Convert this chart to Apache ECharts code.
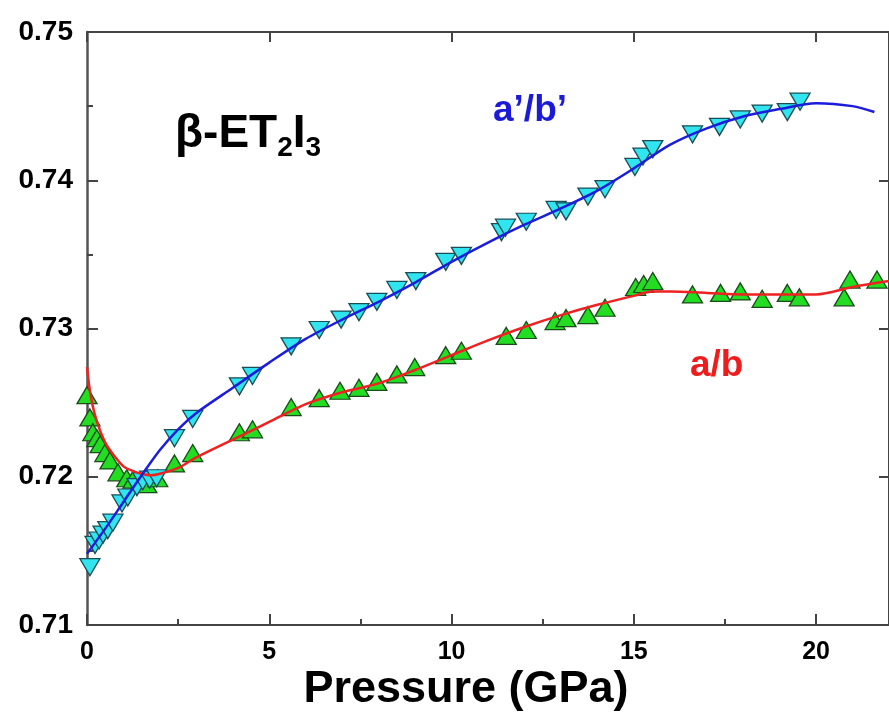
<!DOCTYPE html>
<html>
<head>
<meta charset="utf-8">
<script src="https://cdn.jsdelivr.net/npm/echarts@6/dist/echarts.min.js"></script>
<style>
html,body{margin:0;padding:0;background:#fff;}
#chart{width:889px;height:722px;}
</style>
</head>
<body>
<div id="chart"></div>
<script>
// ---- data ----
const xTicks = [0, 5, 10, 15, 20];
const yTicks = [0.71, 0.72, 0.73, 0.74, 0.75];

// a'/b' (cyan down-triangles)
const bluePressure = [0.08, 0.22, 0.33, 0.44, 0.57, 0.71, 0.96, 1.12, 1.37, 1.53, 1.72, 1.91, 2.40, 2.90, 4.18, 4.54, 5.60, 6.37, 6.97, 7.46, 7.95, 8.50, 9.02, 9.84, 10.27, 11.37, 11.48, 12.05, 12.87, 13.14, 13.74, 14.21, 15.03, 15.25, 15.52, 16.61, 17.35, 17.92, 18.52, 19.21, 19.56];
const blueRatio = [0.7139, 0.7154, 0.7157, 0.7161, 0.7164, 0.7169, 0.7182, 0.7186, 0.7193, 0.7197, 0.7198, 0.7199, 0.7226, 0.7239, 0.7261, 0.7268, 0.7288, 0.7299, 0.7306, 0.7311, 0.7318, 0.7326, 0.7332, 0.7345, 0.7349, 0.7365, 0.7368, 0.7372, 0.7380, 0.7379, 0.7389, 0.7394, 0.7409, 0.7416, 0.7421, 0.7431, 0.7436, 0.7441, 0.7445, 0.7446, 0.7453];

// a/b (green up-triangles)
const greenPressure = [0.0, 0.08, 0.16, 0.27, 0.36, 0.49, 0.63, 0.85, 1.09, 1.26, 1.45, 1.64, 1.94, 2.40, 2.90, 4.18, 4.54, 5.60, 6.37, 6.94, 7.46, 7.95, 8.50, 8.99, 9.84, 10.27, 11.50, 12.05, 12.84, 13.14, 13.74, 14.21, 15.05, 15.27, 15.52, 16.61, 17.38, 17.92, 18.52, 19.21, 19.54, 20.77, 20.93, 21.67];
const greenRatio = [0.7255, 0.7240, 0.7230, 0.7226, 0.7222, 0.7216, 0.7211, 0.7203, 0.7199, 0.7198, 0.7196, 0.7195, 0.7199, 0.7209, 0.7216, 0.7230, 0.7232, 0.7247, 0.7253, 0.7258, 0.7260, 0.7264, 0.7269, 0.7274, 0.7282, 0.7285, 0.7295, 0.7299, 0.7305, 0.7307, 0.7309, 0.7314, 0.7328, 0.7330, 0.7332, 0.7323, 0.7324, 0.7325, 0.7320, 0.7324, 0.7321, 0.7321, 0.7333, 0.7333];

// fitted curves
const blueFitP = [0, 0.5, 1, 1.5, 2, 2.5, 3, 4, 5, 6, 7, 8, 9, 10, 11, 12, 13, 14, 15, 16, 17, 18, 19, 20, 21, 21.6];
const blueFitV = [0.7148, 0.7165, 0.7183, 0.7201, 0.7218, 0.7232, 0.7243, 0.7260, 0.7277, 0.7293, 0.7306, 0.7318, 0.7331, 0.7345, 0.7358, 0.7370, 0.7381, 0.7393, 0.7408, 0.7424, 0.7435, 0.7443, 0.7448, 0.7452, 0.7450, 0.7446];
const redFitP = [0, 0.1, 0.25, 0.5, 0.75, 1, 1.25, 1.5, 1.75, 2, 2.5, 3, 4, 5, 6, 7, 8, 9, 10, 11, 12, 13, 14, 15, 15.5, 16, 17, 18, 19, 20, 21, 22];
const redFitV = [0.7274, 0.7255, 0.7239, 0.7223, 0.7214, 0.7207, 0.7204, 0.7202, 0.7201, 0.7202, 0.7206, 0.7213, 0.7225, 0.7237, 0.7249, 0.7257, 0.7263, 0.7272, 0.7282, 0.7292, 0.7301, 0.7309, 0.7316, 0.7322, 0.7325, 0.7325, 0.7324, 0.7323, 0.7323, 0.7323, 0.7328, 0.7332];

const xTitle = 'Pressure (GPa)';
const labelBlue = 'a\u2019/b\u2019';
const labelRed = 'a/b';

// ---- build chart ----
const FONT = '"Liberation Sans", Arial, sans-serif';
const zip = (a, b) => a.map((v, i) => [v, b[i]]);
const axisCol = '#444';

const chart = echarts.init(document.getElementById('chart'), null, {renderer: 'canvas'});

const ctx = document.createElement('canvas').getContext('2d');
function w(text, font) { ctx.font = font; return ctx.measureText(text).width; }

const bigFont = 'bold 46px ' + FONT;
const subFont = 'bold 28px ' + FONT;
let cx = 175;
const titleParts = [];
function addPart(text, font, y) {
  titleParts.push({type: 'text', x: cx, y: y, z: 100,
    style: {text: text, font: font, fill: '#000', align: 'left', verticalAlign: 'middle', textAlign: 'left', textVerticalAlign: 'middle'}});
  cx += w(text, font);
}
addPart('\u03B2-ET', bigFont, 134);
addPart('2', subFont, 148);
addPart('I', bigFont, 134);
addPart('3', subFont, 148);

const axisCommon = {
  type: 'value', min: 0, max: 22, interval: 5,
  axisLine: {show: true, onZero: false, lineStyle: {color: axisCol, width: 2}},
  splitLine: {show: false}
};

const option = {
  animation: false,
  backgroundColor: '#fff',
  grid: {left: 87, top: 32, right: -3, bottom: 97, containLabel: false},
  xAxis: [
    Object.assign({}, axisCommon, {
      position: 'bottom',
      axisTick: {show: true, inside: true, length: 11, lineStyle: {color: axisCol, width: 2}},
      minorTick: {show: true, splitNumber: 2, length: 6, lineStyle: {color: axisCol, width: 2}},
      axisLabel: {show: true, color: '#000', fontSize: 25, fontWeight: 'bold', fontFamily: FONT, margin: 15,
        showMaxLabel: false,
        formatter: v => (xTicks.indexOf(v) >= 0 ? String(v) : '')}
    }),
    Object.assign({}, axisCommon, {
      position: 'top',
      axisTick: {show: true, inside: true, length: 10, lineStyle: {color: axisCol, width: 2}},
      axisLabel: {show: false}
    })
  ],
  yAxis: [
    {
      type: 'value', min: 0.71, max: 0.75, interval: 0.01, position: 'left',
      axisLine: {show: true, onZero: false, lineStyle: {color: '#555', width: 2.5}},
      axisTick: {show: true, inside: true, length: 11, lineStyle: {color: axisCol, width: 2}},
      minorTick: {show: true, splitNumber: 2, length: 6, lineStyle: {color: axisCol, width: 2}},
      splitLine: {show: false},
      axisLabel: {color: '#000', fontSize: 28, fontWeight: 'bold', fontFamily: FONT, margin: 14,
        formatter: v => v.toFixed(2)}
    },
    {
      type: 'value', min: 0.71, max: 0.75, interval: 0.01, position: 'right',
      axisLine: {show: true, onZero: false, lineStyle: {color: axisCol, width: 2}},
      axisTick: {show: true, inside: true, length: 10, lineStyle: {color: axisCol, width: 2}},
      minorTick: {show: false},
      splitLine: {show: false},
      axisLabel: {show: false}
    }
  ],
  series: [
    {
      name: 'a/b', type: 'scatter', data: zip(greenPressure, greenRatio),
      symbol: 'triangle', symbolSize: [20, 17], z: 2,
      itemStyle: {color: '#22dd22', borderColor: '#1b4a1b', borderWidth: 1.3, opacity: 1}
    },
    {
      name: 'a\u2019/b\u2019', type: 'scatter', data: zip(bluePressure, blueRatio),
      symbol: 'triangle', symbolRotate: 180, symbolSize: [20, 17], z: 2,
      itemStyle: {color: '#30e4f0', borderColor: '#1a4d55', borderWidth: 1.3, opacity: 1}
    },
    {
      name: 'a/b fit', type: 'line', data: zip(redFitP, redFitV),
      smooth: 0.3, showSymbol: false, symbol: 'none', z: 3,
      lineStyle: {color: '#ee2222', width: 2.5}
    },
    {
      name: 'a\u2019/b\u2019 fit', type: 'line', data: zip(blueFitP, blueFitV),
      smooth: 0.3, showSymbol: false, symbol: 'none', z: 3,
      lineStyle: {color: '#1c1cdc', width: 2.5}
    }
  ],
  graphic: titleParts.concat([
    {type: 'text', x: 493, y: 111, z: 100,
      style: {text: labelBlue, font: 'bold 37px ' + FONT, fill: '#1a1ad8', align: 'left', verticalAlign: 'middle', textAlign: 'left', textVerticalAlign: 'middle'}},
    {type: 'text', x: 690, y: 366, z: 100,
      style: {text: labelRed, font: 'bold 37px ' + FONT, fill: '#ee1c1c', align: 'left', verticalAlign: 'middle', textAlign: 'left', textVerticalAlign: 'middle'}},
    {type: 'text', x: 466, y: 690, z: 100,
      style: {text: xTitle, font: 'bold 45px ' + FONT, fill: '#000', align: 'center', verticalAlign: 'middle', textAlign: 'center', textVerticalAlign: 'middle'}}
  ])
};

chart.setOption(option);
</script>
</body>
</html>
